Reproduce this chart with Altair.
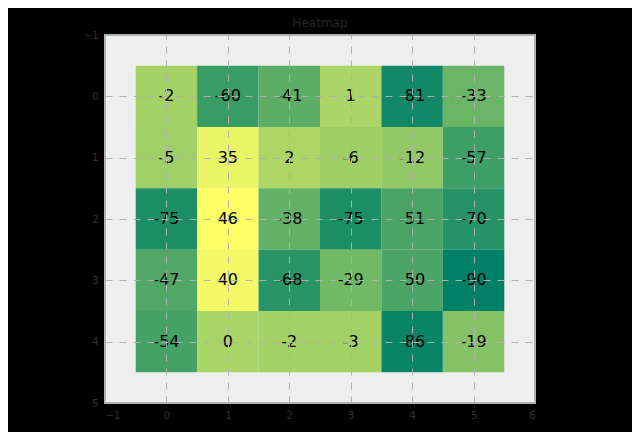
import altair as alt
import pandas as pd

cols = [0, 1, 2, 3, 4, 5]
rows = [0, 1, 2, 3, 4]
values = [
    [-2, -60, -41, 1, -81, -33],
    [-5, 35, 2, -6, -12, -57],
    [-75, 46, -38, -75, -51, -70],
    [-47, 40, -68, -29, -50, -90],
    [-54, 0, -2, -3, -86, -19],
]
x_ticks = [-1, 0, 1, 2, 3, 4, 5, 6]
y_ticks = [-1, 0, 1, 2, 3, 4, 5]

recs = []
for r in rows:
    for c in cols:
        recs.append({"x0": c - 0.5, "x1": c + 0.5, "y0": r - 0.5, "y1": r + 0.5,
                     "xc": c, "yc": r, "v": values[r][c], "lab": str(values[r][c])})
df = pd.DataFrame(recs)

common = dict(title=None, grid=True, gridDash=[7, 7], gridColor="#b0b0b0",
              gridWidth=1, labelColor="#333333", labelFontSize=10, labelFont="DejaVu Sans",
              ticks=False, domain=False, labelPadding=7, zindex=1, format="d")
xax = alt.Axis(values=x_ticks, **common)
yax = alt.Axis(values=y_ticks, **common)

xs = alt.Scale(domain=[-1, 6], nice=False, zero=False)
ys = alt.Scale(domain=[-1, 5], nice=False, zero=False, reverse=True)

rect = alt.Chart(df).mark_rect().encode(
    x=alt.X("x0:Q", scale=xs, axis=xax),
    x2="x1:Q",
    y=alt.Y("y0:Q", scale=ys, axis=yax),
    y2="y1:Q",
    color=alt.Color("v:Q", scale=alt.Scale(domain=[-90, 46], range=["#008066", "#ffff66"],
                                           interpolate="rgb"), legend=None),
)

text = alt.Chart(df).mark_text(fontSize=16, font="DejaVu Sans", color="black",
                               baseline="middle", align="center").encode(
    x=alt.X("xc:Q", scale=xs),
    y=alt.Y("yc:Q", scale=ys),
    text="lab:N",
)

chart = alt.layer(rect, text).properties(
    width=430, height=368,
    title=alt.TitleParams("Heatmap", fontSize=12, font="DejaVu Sans", fontWeight="normal",
                          color="#262626", anchor="middle", offset=0),
    background="black",
    autosize=alt.AutoSizeParams(type="none"),
    padding={"left": 97, "top": 27, "right": 97, "bottom": 29},
).configure_view(fill="#eeeeee", stroke="#b0b0b0", strokeWidth=2)

chart.save("out.html", embed_options={"renderer": "svg", "actions": False})
